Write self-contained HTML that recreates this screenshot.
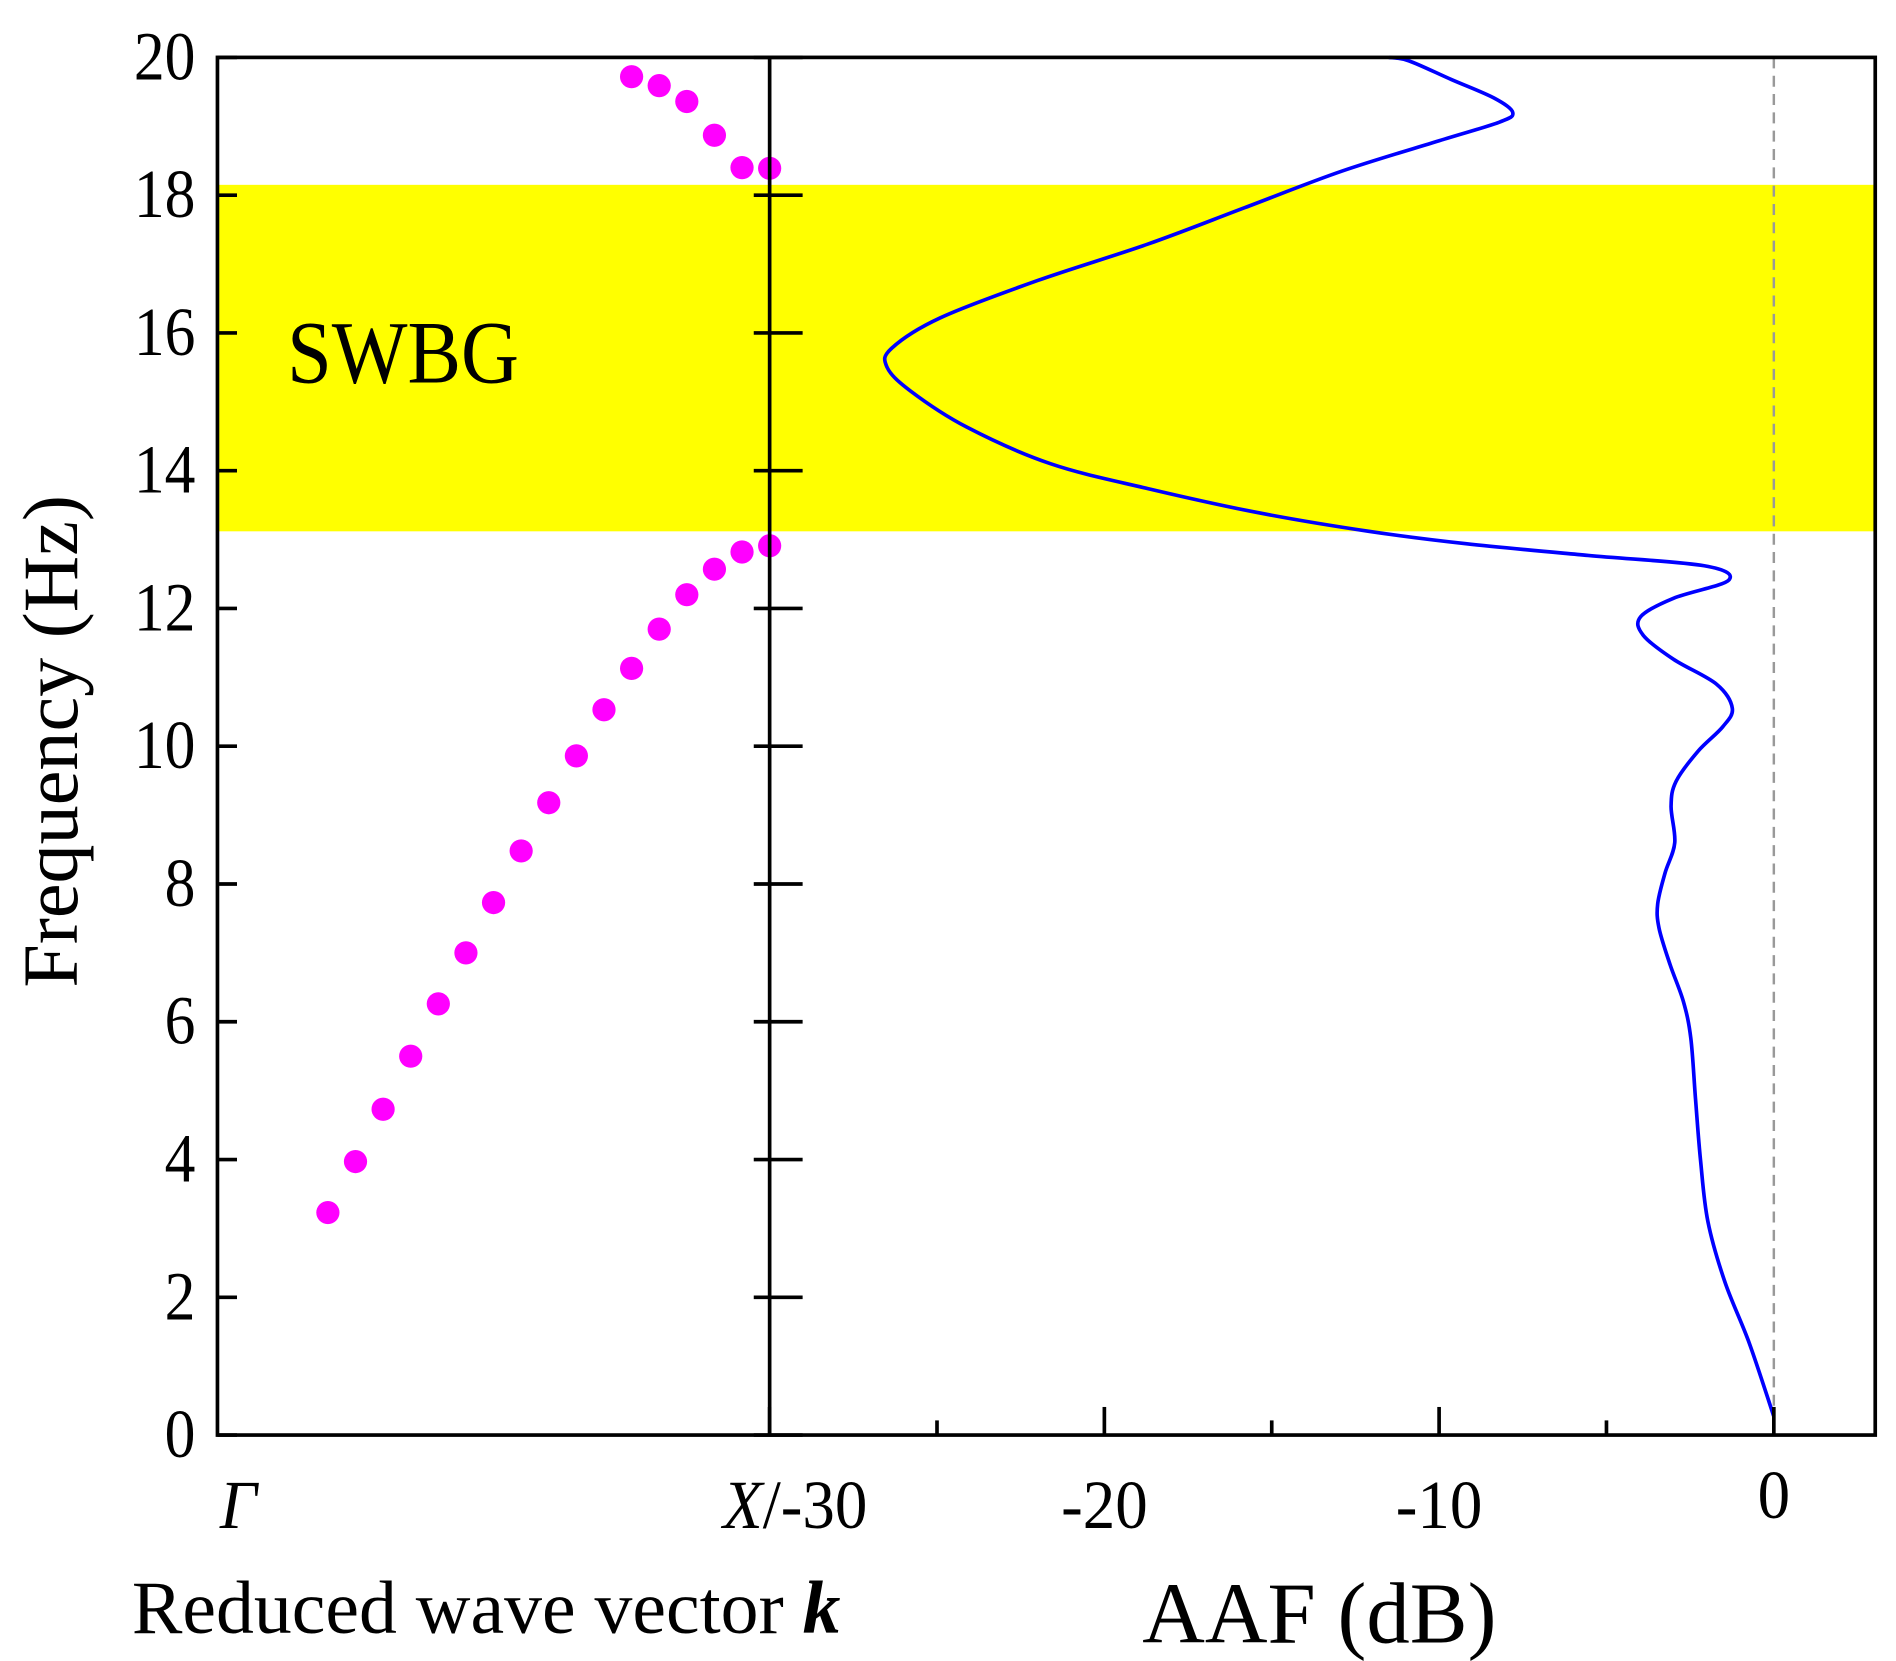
<!DOCTYPE html>
<html><head><meta charset="utf-8"><style>
html,body{margin:0;padding:0;background:#fff;}
svg{display:block;}
text{font-family:"Liberation Serif",serif;fill:#000;}
</style></head><body>
<svg id="chart" width="1896" height="1661" viewBox="0 0 1552 1360" preserveAspectRatio="none" xmlns="http://www.w3.org/2000/svg">
<g id="bg"></g><g id="marks"></g><g id="axes"></g>
</svg>
<script>
const freqTicks=[0,2,4,6,8,10,12,14,16,18,20];
const dbTicks=[-30,-20,-10,0];
const dbMinorTicks=[-25,-15,-5];
const bandGap=[13.12,18.15];
const lowerK=[0.2,0.25,0.3,0.35,0.4,0.45,0.5,0.55,0.6,0.65,0.7,0.75,0.8,0.85,0.9,0.95,1.0];
const lowerF=[3.23,3.97,4.73,5.50,6.26,7.00,7.73,8.48,9.18,9.86,10.53,11.13,11.70,12.20,12.57,12.82,12.91];
const upperK=[0.75,0.8,0.85,0.9,0.95,1.0];
const upperF=[19.72,19.59,19.36,18.87,18.40,18.39];
const aafF=[0.27,1.33,2.22,3.10,3.99,4.88,5.76,6.29,6.83,7.36,7.71,8.16,8.60,9.13,9.49,9.93,10.28,10.55,10.90,11.26,11.61,11.88,12.15,12.41,12.62,12.77,12.94,13.12,13.39,13.74,14.10,14.63,15.16,15.51,15.78,16.22,16.76,17.29,17.82,18.35,18.79,19.06,19.20,19.41,19.68,19.95,20.0];
const aafDB=[0,-0.73,-1.46,-1.97,-2.19,-2.34,-2.48,-2.70,-3.10,-3.43,-3.47,-3.25,-2.96,-3.07,-2.92,-2.26,-1.53,-1.24,-1.71,-2.99,-3.90,-3.98,-2.99,-1.35,-2.08,-5.55,-9.2,-12.1,-15.4,-18.7,-21.6,-24.1,-25.8,-26.5,-26.35,-24.9,-22.0,-18.7,-15.8,-12.9,-10.0,-8.2,-7.8,-8.36,-9.64,-10.9,-11.5];

const NS='http://www.w3.org/2000/svg';
const L=178,R=1535,T=47,B=1175,MID=630;
const yF=f=>B-(B-T)*f/20;
const xK=k=>L+(MID-L)*k;
const xDB=d=>MID+(d+30)*(1452-MID)/30;
function mk(tag,attrs,parent,txt){const e=document.createElementNS(NS,tag);for(const a in attrs)e.setAttribute(a,attrs[a]);if(txt!==undefined)e.textContent=txt;parent.appendChild(e);return e;}
const bg=document.getElementById('bg'),marks=document.getElementById('marks'),axes=document.getElementById('axes');

let e=mk('rect',{x:L,y:yF(bandGap[1]),width:R-L,height:yF(bandGap[0])-yF(bandGap[1]),fill:'#ffff00'},bg);


e=mk('text',{x:0,y:0,'font-size':73,transform:'translate(235,313) scale(0.9,1)'},bg,'SWBG');


e=mk('line',{x1:xDB(0),x2:xDB(0),y1:T,y2:B,stroke:'#999','stroke-width':2,'stroke-dasharray':'9,6'},bg);



lowerK.forEach((k,i)=>{const c=mk('circle',{cx:xK(k),cy:yF(lowerF[i]),r:9.5,fill:'#ff00ff'},marks);

});
upperK.forEach((k,i)=>{const c=mk('circle',{cx:xK(k),cy:yF(upperF[i]),r:9.5,fill:'#ff00ff'},marks);

});

const pts=aafF.map((f,i)=>[xDB(aafDB[i]),yF(f)]);
let d='M'+pts[0][0]+','+pts[0][1];
for(let i=0;i<pts.length-1;i++){const p0=pts[Math.max(0,i-1)],p1=pts[i],p2=pts[i+1],p3=pts[Math.min(pts.length-1,i+2)];
d+=` C${p1[0]+(p2[0]-p0[0])/6},${p1[1]+(p2[1]-p0[1])/6} ${p2[0]-(p3[0]-p1[0])/6},${p2[1]-(p3[1]-p1[1])/6} ${p2[0]},${p2[1]}`;}
e=mk('path',{d:d,fill:'none',stroke:'#0000ff','stroke-width':3},marks);



e=mk('rect',{x:L,y:T,width:R-L,height:B-T,fill:'none',stroke:'#000','stroke-width':3},axes);


e=mk('line',{x1:MID,x2:MID,y1:T,y2:B,stroke:'#000','stroke-width':3},axes);


freqTicks.forEach(f=>{
 const t=mk('line',{x1:MID-13,x2:MID+27,y1:yF(f),y2:yF(f),stroke:'#000','stroke-width':3},axes);
 
 
 const t2=mk('line',{x1:L,x2:L+16,y1:yF(f),y2:yF(f),stroke:'#000','stroke-width':3},axes);
 
 
 const lb=mk('text',{x:0,y:0,'font-size':56,'text-anchor':'end',transform:`translate(160,${yF(f)+18}) scale(0.9,1)`},axes,String(f));
 
 
});
dbTicks.forEach(v=>{
 const t=mk('line',{x1:xDB(v),x2:xDB(v),y1:B,y2:B-23,stroke:'#000','stroke-width':3},axes);
 
 
 if(v!==-30){const lb=mk('text',{x:0,y:0,'font-size':56,'text-anchor':'middle',transform:`translate(${xDB(v)},${v===0?1243:1251}) scale(0.95,1)`},axes,String(v));
 
 }
});
dbMinorTicks.forEach(v=>{
 const t=mk('line',{x1:xDB(v),x2:xDB(v),y1:B,y2:B-12,stroke:'#000','stroke-width':3},axes);
 
 
});
e=mk('text',{x:0,y:0,'font-size':56,'font-style':'italic',transform:'translate(180,1251) scale(0.95,1)'},axes,'Γ');


e=mk('text',{x:0,y:0,'font-size':56,'text-anchor':'end',transform:'translate(710,1251) scale(0.95,1)'},axes);


mk('tspan',{'font-style':'italic'},e,'X');mk('tspan',{},e,'/-30');
e=mk('text',{x:108,y:1337,'font-size':62},axes,'Reduced wave vector ');


mk('tspan',{'font-style':'italic','font-weight':'bold'},e,'k');
e=mk('text',{x:1080,y:1345,'font-size':71,'text-anchor':'middle'},axes,'AAF (dB)');


e=mk('text',{x:0,y:0,'font-size':64,'text-anchor':'middle',transform:'translate(63,607) rotate(-90)'},axes,'Frequency (Hz)');


</script>
</body></html>
